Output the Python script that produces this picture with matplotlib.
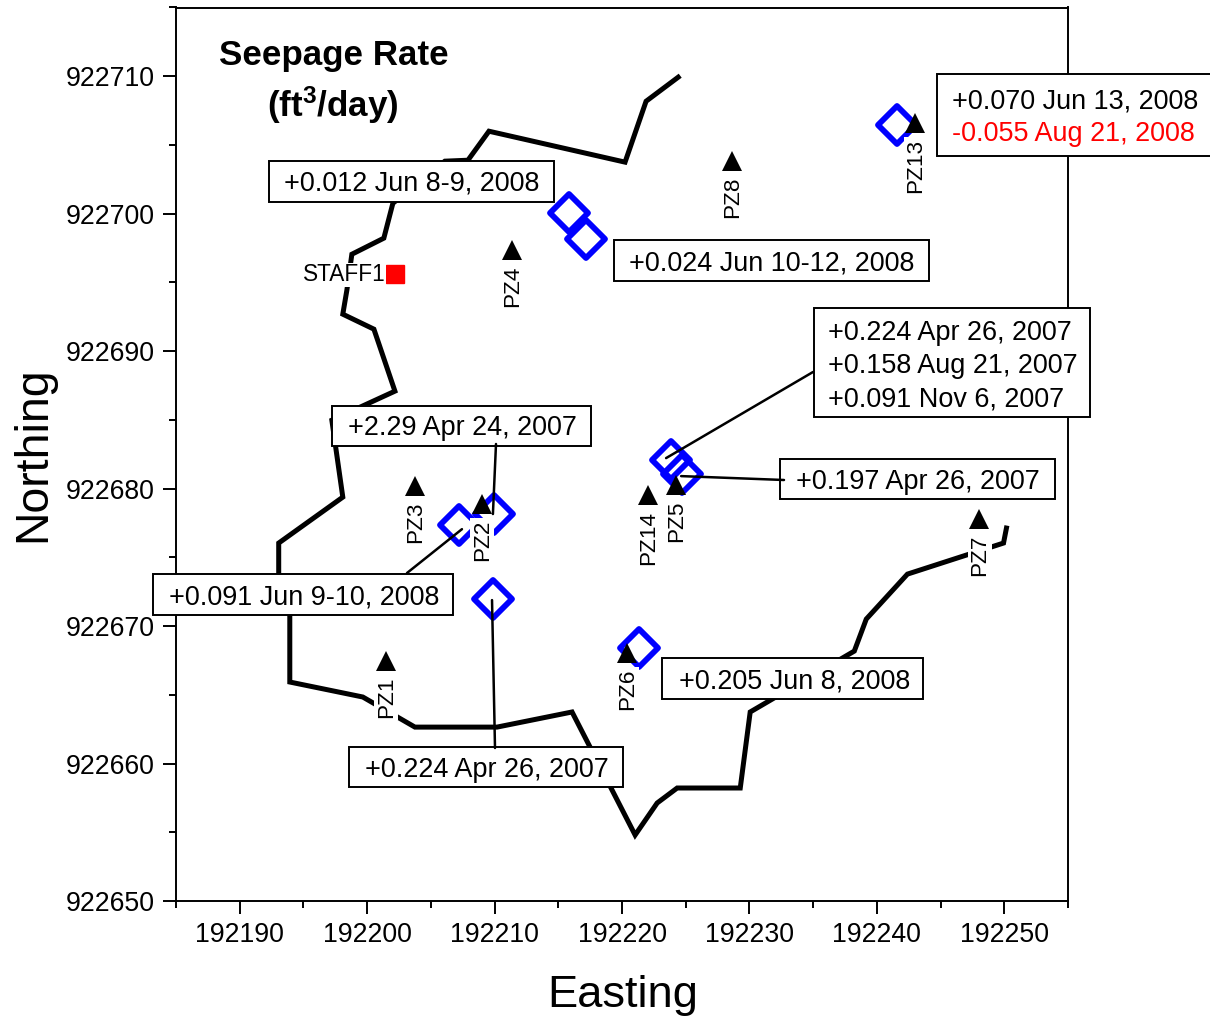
import matplotlib
matplotlib.use('Agg')
import matplotlib.pyplot as plt
from matplotlib.markers import MarkerStyle
from matplotlib.patches import Rectangle
from matplotlib.ticker import MultipleLocator, FormatStrFormatter

plt.rcParams['font.family'] = ['Liberation Sans', 'DejaVu Sans']
plt.rcParams['mathtext.default'] = 'regular'

# shoreline trace
shore_x = [192224.41, 192221.89, 192220.24, 192209.56, 192207.91, 192206.10, 192202.02, 192201.31,
           192198.80, 192198.41, 192198.09, 192200.53, 192202.18, 192197.23, 192198.09, 192193.06,
           192193.06, 192193.93, 192193.93, 192199.66, 192203.75, 192210.19, 192216.08, 192221.03,
           192222.76, 192224.33, 192229.28, 192230.06, 192238.23, 192239.17, 192242.40, 192249.94,
           192250.17]
shore_y = [922709.93, 922708.18, 922703.75, 922706.00, 922703.89, 922703.82, 922700.76, 922698.22,
           922697.05, 922694.44, 922692.69, 922691.60, 922687.09, 922684.98, 922679.38, 922676.04,
           922673.85, 922670.80, 922665.93, 922664.84, 922662.65, 922662.65, 922663.75, 922654.80,
           922657.13, 922658.22, 922658.22, 922663.75, 922668.18, 922670.51, 922673.78, 922676.04,
           922677.13]

# seepage meter locations
seep_x = [192215.84, 192217.18, 192241.61, 192223.86, 192224.72, 192207.20, 192209.95, 192209.87, 192221.34]
seep_y = [922700.04, 922698.15, 922706.44, 922682.07, 922681.05, 922677.35, 922678.15, 922671.96, 922668.40]

# piezometers
pz_names = ['PZ1', 'PZ2', 'PZ3', 'PZ4', 'PZ5', 'PZ6', 'PZ7', 'PZ8', 'PZ13', 'PZ14']
pz_x = [192201.47, 192209.01, 192203.75, 192211.37, 192224.25, 192220.40, 192248.05, 192228.65, 192243.02, 192222.05]
pz_y = [922667.45, 922678.87, 922680.18, 922697.35, 922680.25, 922668.04, 922677.78, 922703.82, 922706.58, 922679.53]

staff_x = [192202.2]
staff_y = [922695.6]

W, H = 1210, 1017


def fx(px):
    return px / W


def fy(py):
    return 1 - py / H


def add_box(ax, left, top, right, bottom):
    ax.add_patch(Rectangle((fx(left), fy(bottom)), (right - left) / W, (bottom - top) / H,
                           transform=ax.figure.transFigure, facecolor='white', edgecolor='black',
                           linewidth=1.4, clip_on=False, zorder=6))


def add_note(ax, left, py, text, color='black'):
    ax.text(fx(left), fy(py), text, transform=ax.figure.transFigure, fontsize=19.45, color=color,
            ha='left', va='center', zorder=7, clip_on=False)


def add_leader(ax, tip, px, py):
    ax.annotate('', xy=tip, xycoords='data', xytext=(fx(px), fy(py)), textcoords='figure fraction',
                arrowprops=dict(arrowstyle='-', color='black', lw=1.8, shrinkA=0, shrinkB=0),
                zorder=8, annotation_clip=False)


fig = plt.figure(figsize=(W / 100, H / 100), dpi=100)
ax = fig.add_axes([fx(176), fy(901), (1068 - 176) / W, (901 - 7.5) / H])

ax.plot(shore_x, shore_y, color='black', linewidth=3.6, solid_joinstyle='miter', zorder=2)
ax.plot(seep_x, seep_y, linestyle='none', marker=MarkerStyle('D', joinstyle='round'), markersize=19.6,
        markerfacecolor='none', markeredgecolor='#0000ff', markeredgewidth=4.2, zorder=3)
ax.plot(staff_x, staff_y, linestyle='none', marker='s', markersize=13, color='red', zorder=3)
ax.plot(pz_x, pz_y, linestyle='none', marker='^', markersize=14.5, color='black',
        markeredgewidth=0, zorder=5)

for name, x, y in zip(pz_names, pz_x, pz_y):
    ax.annotate(name, xy=(x, y), xytext=(0.2, -11.2), textcoords='offset points', rotation=90,
                ha='center', va='top', fontsize=16.2, zorder=4,
                bbox=dict(facecolor='white', edgecolor='none', pad=1.0))
ax.annotate('STAFF1', xy=(staff_x[0], staff_y[0]), xytext=(-7, -0.5), textcoords='offset points',
            ha='right', va='center', fontsize=16.3, zorder=4,
            bbox=dict(facecolor='white', edgecolor='none', pad=0.5))

ax.set_xlim(192185, 192255)
ax.set_ylim(922650, 922715)
ax.xaxis.set_major_locator(MultipleLocator(10))
ax.xaxis.set_minor_locator(MultipleLocator(5))
ax.yaxis.set_major_locator(MultipleLocator(10))
ax.yaxis.set_minor_locator(MultipleLocator(5))
ax.xaxis.set_major_formatter(FormatStrFormatter('%d'))
ax.yaxis.set_major_formatter(FormatStrFormatter('%d'))
ax.tick_params(which='major', direction='out', length=9.4, width=1.4, labelsize=19.2, pad=6)
ax.tick_params(which='minor', direction='out', length=5, width=1.4)
for s in ax.spines.values():
    s.set_linewidth(1.4)

fig.text(fx(623), fy(995), 'Easting', fontsize=32.6, ha='center', va='center')
fig.text(fx(33), fy(454), 'Northing', fontsize=33.4, rotation=90, ha='center', va='center')

fig.text(fx(334), fy(55), 'Seepage Rate', fontsize=25.2, fontweight='bold', ha='center', va='center')
fig.text(fx(333), fy(105), '(ft$^{3}$/day)', fontsize=25.2, fontweight='bold', ha='center', va='center')

add_box(ax, 268.5, 161, 553.5, 202)
add_note(ax, 284, 184, '+0.012 Jun 8-9, 2008')
add_box(ax, 613.5, 240, 929, 281)
add_note(ax, 629, 264, '+0.024 Jun 10-12, 2008')
add_box(ax, 814, 308, 1090, 417)
add_note(ax, 828, 333, '+0.224 Apr 26, 2007')
add_note(ax, 828, 366, '+0.158 Aug 21, 2007')
add_note(ax, 828, 399, '+0.091 Nov 6, 2007')
add_box(ax, 780, 459, 1055, 499)
add_note(ax, 796, 482, '+0.197 Apr 26, 2007')
add_box(ax, 332, 406, 591, 446)
add_note(ax, 348, 428, '+2.29 Apr 24, 2007')
add_box(ax, 153, 574, 453, 615)
add_note(ax, 169, 597, '+0.091 Jun 9-10, 2008')
add_box(ax, 349, 747, 623, 787)
add_note(ax, 365, 770, '+0.224 Apr 26, 2007')
add_box(ax, 662, 658, 923, 699)
add_note(ax, 679, 682, '+0.205 Jun 8, 2008')
add_box(ax, 937, 74, 1212, 156)
add_note(ax, 952, 102, '+0.070 Jun 13, 2008')
add_note(ax, 952, 134, '-0.055 Aug 21, 2008', color='red')

add_leader(ax, (192223.46, 922682.22), 813, 372)
add_leader(ax, (192224.64, 922680.91), 784, 480)
add_leader(ax, (192209.87, 922678.15), 496, 444)
add_leader(ax, (192207.44, 922677.05), 407, 573)
add_leader(ax, (192209.80, 922671.89), 495, 748)

fig.savefig('out.png', dpi=100)
